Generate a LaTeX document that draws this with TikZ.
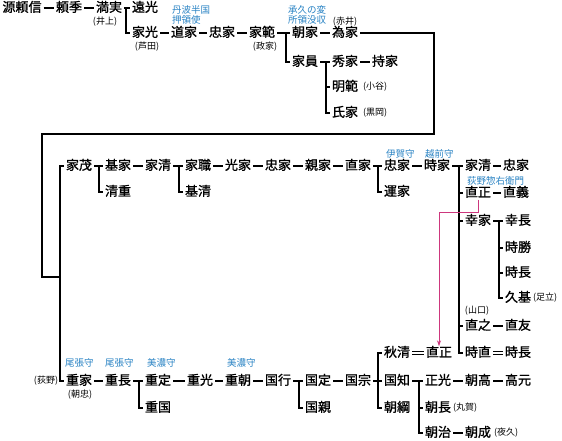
\documentclass[tikz,border=0pt]{standalone}
\usepackage{fontspec}
\newfontfamily\cjk{Noto Sans CJK JP}[FakeBold=1.2]
\newfontfamily\cjksmall{Noto Sans CJK JP}
\definecolor{titleblue}{RGB}{40,130,195}
\definecolor{adoptpink}{RGB}{205,55,125}
\tikzset{
	nm/.style={font=\cjk\fontsize{13}{13}\selectfont, inner sep=2pt, text height=0.83em, text depth=0.07em},
	ttl/.style={font=\cjksmall\fontsize{9.5}{10}\selectfont, text=titleblue, inner sep=0pt, align=left, anchor=west},
	nt/.style={font=\cjksmall\fontsize{9}{9}\selectfont, inner sep=0pt},
	ln/.style={line width=2.6pt},
	dbl/.style={double, double distance=2.2pt, line width=0.9pt},
	adopt/.style={adoptpink, line width=1pt, -{Stealth[length=6pt,width=4pt]}}
}
\usetikzlibrary{arrows.meta}
\begin{document}
\begin{tikzpicture}[x=1pt,y=-1pt]
	\useasboundingbox (0,0) rectangle (562,440);
	% upper generations
	\node[nm] (raiyoshi) at (22,8) {源頼信};
	\node[nm] (yorisue) at (69,8) {頼季};
	\node[nm] (mitsuzane) at (109,8) {満実};
	\node[nm] (toomitsu) at (145,8) {遠光};
	\node[nm] (iemitsu) at (145,33) {家光};
	\node[nm] (michiie) at (184,33) {道家};
	\node[nm] (tadaie1) at (222,33) {忠家};
	\node[nm] (ienori) at (262,33) {家範};
	\node[nm] (tomoie) at (305,33) {朝家};
	\node[nm] (tameie) at (345,33) {為家};
	\node[nm] (iekazu) at (305,62) {家員};
	\node[nm] (hideie) at (345,62) {秀家};
	\node[nm] (mochiie) at (385,62) {持家};
	\node[nm] (akinori) at (345,87) {明範};
	\node[nm] (ujiie) at (345,113) {氏家};
	\node[nt] (n1) at (105,22) {(井上)};
	\node[nt] (n2) at (147,47) {(芦田)};
	\node[nt] (n3) at (265,47) {(政家)};
	\node[nt] (n4) at (345,22) {(赤井)};
	\node[nt, anchor=west] (n5) at (363,87) {(小谷)};
	\node[nt, anchor=west] (n6) at (363,113) {(黒岡)};
	\node[ttl] (t1) at (172,15) {丹波半国\\押領使};
	\node[ttl] (t2) at (288,15) {承久の変\\所領没収};
	\draw[ln] (raiyoshi) -- (yorisue);
	\draw[ln] (yorisue) -- (mitsuzane);
	\draw[ln] (mitsuzane) -- (toomitsu);
	\draw[ln] ([xshift=-4pt]toomitsu.west) |- (iemitsu.west);
	\draw[ln] (iemitsu) -- (michiie);
	\draw[ln] (michiie) -- (tadaie1);
	\draw[ln] (tadaie1) -- (ienori);
	\draw[ln] (ienori) -- (tomoie);
	\draw[ln] ([xshift=-4pt]tomoie.west) |- (iekazu.west);
	\draw[ln] (tomoie) -- (tameie);
	\draw[ln] (iekazu) -- (hideie);
	\draw[ln] (hideie) -- (mochiie);
	\foreach \c in {akinori,ujiie} {
		\draw[ln] ([xshift=-4pt]hideie.west) |- (\c.west);
	}
	% middle row
	\node[nm] (iemochi) at (79,166) {家茂};
	\node[nm] (motoie) at (118,166) {基家};
	\node[nm] (ieyoshi1) at (158,166) {家清};
	\node[nm] (iemoto) at (198,166) {家職};
	\node[nm] (mitsuie) at (238,166) {光家};
	\node[nm] (tadaie2) at (278,166) {忠家};
	\node[nm] (chikaie) at (318,166) {親家};
	\node[nm] (naoie) at (358,166) {直家};
	\node[nm] (tadaie3) at (397,166) {忠家};
	\node[nm] (tokiie) at (437,166) {時家};
	\node[nm] (ieyoshi2) at (478,166) {家清};
	\node[nm] (tadaie4) at (516,166) {忠家};
	\node[nm] (kiyoshige) at (118,192) {清重};
	\node[nm] (motokiyo) at (198,192) {基清};
	\node[nm] (unke) at (397,192) {運家};
	\node[nm] (naomasa1) at (478,193) {直正};
	\node[nm] (naoyoshi) at (516,193) {直義};
	\node[nm] (yukiie) at (478,221) {幸家};
	\node[nm] (yukinaga) at (518,221) {幸長};
	\node[nm] (tokikatsu) at (518,248) {時勝};
	\node[nm] (tokinaga1) at (518,273) {時長};
	\node[nm] (hisamoto) at (518,298) {久基};
	\node[nm] (naoyuki) at (478,326) {直之};
	\node[nm] (naotomo) at (518,326) {直友};
	\node[nm] (tokinao) at (478,353) {時直};
	\node[nm] (tokinaga2) at (518,353) {時長};
	\node[nt, anchor=west] (n7) at (533,298) {(足立)};
	\node[nt] (n8) at (477,311) {(山口)};
	\node[ttl] (t3) at (386,154) {伊賀守};
	\node[ttl] (t4) at (425,154) {越前守};
	\node[ttl] (t5) at (467,181) {荻野惣右衛門};
	\draw[ln] (iemochi) -- (motoie);
	\draw[ln] ([xshift=-4pt]motoie.west) |- (kiyoshige.west);
	\draw[ln] (motoie) -- (ieyoshi1);
	\draw[ln] (ieyoshi1) -- (iemoto);
	\draw[ln] ([xshift=-4pt]iemoto.west) |- (motokiyo.west);
	\draw[ln] (iemoto) -- (mitsuie);
	\draw[ln] (mitsuie) -- (tadaie2);
	\draw[ln] (tadaie2) -- (chikaie);
	\draw[ln] (chikaie) -- (naoie);
	\draw[ln] (naoie) -- (tadaie3);
	\draw[ln] ([xshift=-4pt]tadaie3.west) |- (unke.west);
	\draw[ln] (tadaie3) -- (tokiie);
	\draw[ln] (tokiie) -- (ieyoshi2);
	\draw[ln] (ieyoshi2) -- (tadaie4);
	\foreach \c in {naomasa1,yukiie,naoyuki,tokinao} {
		\draw[ln] ([xshift=-4pt]ieyoshi2.west) |- (\c.west);
	}
	\draw[ln] (naomasa1) -- (naoyoshi);
	\draw[ln] (yukiie) -- (yukinaga);
	\foreach \c in {tokikatsu,tokinaga1,hisamoto} {
		\draw[ln] ([xshift=-4pt]yukinaga.west) |- (\c.west);
	}
	\draw[ln] (naoyuki) -- (naotomo);
	\draw[dbl] (tokinao) -- (tokinaga2);
	% lower row
	\node[nm] (shigeie) at (79,381) {重家};
	\node[nm] (shigenaga) at (118,381) {重長};
	\node[nm] (shigesada) at (158,381) {重定};
	\node[nm] (shigemitsu) at (200,381) {重光};
	\node[nm] (shigetomo) at (238,381) {重朝};
	\node[nm] (kuniyuki) at (278,381) {国行};
	\node[nm] (kunisada) at (318,381) {国定};
	\node[nm] (kunimune) at (358,381) {国宗};
	\node[nm] (kunitomo) at (397,381) {国知};
	\node[nm] (masamitsu) at (438,381) {正光};
	\node[nm] (tomotaka) at (478,381) {朝高};
	\node[nm] (takamoto) at (518,381) {高元};
	\node[nm] (shigekuni) at (158,408) {重国};
	\node[nm] (kunichika) at (318,408) {国親};
	\node[nm] (akikiyo) at (397,353) {秋清};
	\node[nm] (naomasa2) at (439,353) {直正};
	\node[nm] (tomotsuna) at (397,408) {朝綱};
	\node[nm] (tomonaga) at (438,408) {朝長};
	\node[nm] (tomoharu) at (438,433) {朝治};
	\node[nm] (tomonari) at (478,433) {朝成};
	\node[nt] (n9) at (46,381) {(荻野)};
	\node[nt] (n10) at (80,395) {(朝忠)};
	\node[nt, anchor=west] (n11) at (453,408) {(丸賀)};
	\node[nt, anchor=west] (n12) at (494,433) {(夜久)};
	\node[ttl] (t6) at (65,363) {尾張守};
	\node[ttl] (t7) at (105,363) {尾張守};
	\node[ttl] (t8) at (147,363) {美濃守};
	\node[ttl] (t9) at (227,363) {美濃守};
	\draw[ln] (shigeie) -- (shigenaga);
	\draw[ln] (shigenaga) -- (shigesada);
	\draw[ln] ([xshift=-4pt]shigesada.west) |- (shigekuni.west);
	\draw[ln] (shigesada) -- (shigemitsu);
	\draw[ln] (shigemitsu) -- (shigetomo);
	\draw[ln] (shigetomo) -- (kuniyuki);
	\draw[ln] (kuniyuki) -- (kunisada);
	\draw[ln] ([xshift=-4pt]kunisada.west) |- (kunichika.west);
	\draw[ln] (kunisada) -- (kunimune);
	\draw[ln] (kunimune) -- (kunitomo);
	\foreach \c in {akikiyo,tomotsuna} {
		\draw[ln] ([xshift=-4pt]kunitomo.west) |- (\c.west);
	}
	\draw[ln] (kunitomo) -- (masamitsu);
	\draw[ln] (masamitsu) -- (tomotaka);
	\draw[ln] (tomotaka) -- (takamoto);
	\foreach \c in {tomonaga,tomoharu} {
		\draw[ln] ([xshift=-4pt]masamitsu.west) |- (\c.west);
	}
	\draw[ln] (tomoharu) -- (tomonari);
	\draw[dbl] (akikiyo) -- (naomasa2);
	% long link from Tameie down to Iemochi and Shigeie
	\coordinate (tr) at (434,134);
	\coordinate (bl) at (42,277);
	\coordinate (brk) at ([xshift=-4pt]iemochi.west);
	\draw[ln] (tameie.east) -| (tr) -| (bl) -- (brk |- bl);
	\draw[ln] (iemochi.west) -- (brk) |- (shigeie.west);
	% adoption
	\coordinate (pk) at (439,212);
	\draw[adopt] (naomasa1.south) |- (pk) -- (naomasa2.north);
\end{tikzpicture}
\end{document}
